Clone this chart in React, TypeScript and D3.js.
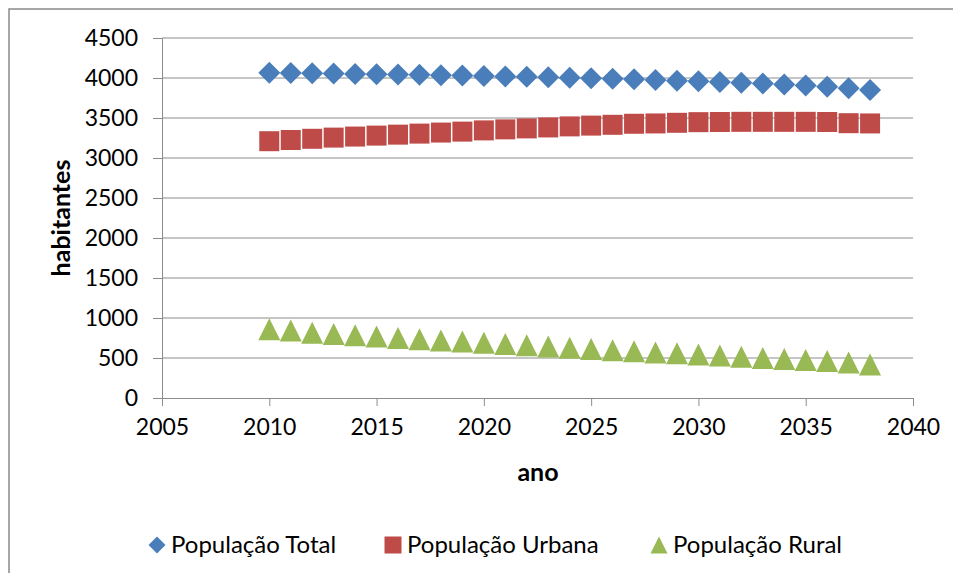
import { useEffect, useRef } from 'react'
import * as d3 from 'd3'

const years = [
  2010, 2011, 2012, 2013, 2014, 2015, 2016, 2017, 2018, 2019,
  2020, 2021, 2022, 2023, 2024, 2025, 2026, 2027, 2028, 2029,
  2030, 2031, 2032, 2033, 2034, 2035, 2036, 2037, 2038,
]

const popTotal = [
  4065, 4062, 4058, 4055, 4050, 4047, 4043, 4040, 4035, 4030,
  4026, 4020, 4016, 4010, 4004, 3998, 3990, 3983, 3975, 3967,
  3958, 3950, 3940, 3930, 3918, 3905, 3890, 3873, 3850,
]

const popUrbana = [
  3210, 3225, 3240, 3255, 3268, 3280, 3292, 3305, 3318, 3330,
  3345, 3358, 3370, 3382, 3395, 3405, 3415, 3428, 3432, 3440,
  3448, 3450, 3452, 3452, 3452, 3452, 3450, 3435, 3432,
]

const popRural = [
  860, 845, 815, 800, 785, 770, 750, 735, 720, 705,
  690, 675, 660, 645, 628, 612, 598, 585, 570, 558,
  545, 530, 515, 500, 488, 475, 462, 445, 420,
]

const yTicks = [0, 500, 1000, 1500, 2000, 2500, 3000, 3500, 4000, 4500]
const xTicks = [2005, 2010, 2015, 2020, 2025, 2030, 2035, 2040]

const seriesNames = ['População Total', 'População Urbana', 'População Rural']

const W = 961
const H = 581
const font = 'Lato, "Open Sans", sans-serif'

const markerPath = (shape: string, s: number) => {
  const h = s / 2
  if (shape === 'diamond') return `M0,${-h}L${h},0L0,${h}L${-h},0Z`
  if (shape === 'square') return `M${-h},${-h}H${h}V${h}H${-h}Z`
  return `M0,${-h}L${h},${h}L${-h},${h}Z`
}

const App = () => {
  const ref = useRef<SVGSVGElement | null>(null)

  useEffect(() => {
    const svg = d3.select(ref.current)
    svg.selectAll('*').remove()

    const x = d3.scaleLinear().domain([2005, 2040]).range([162, 913])
    const y = d3.scaleLinear().domain([0, 4500]).range([398, 38])

    // chart frame (runs off the right/bottom edge)
    svg.append('rect')
      .attr('x', 9).attr('y', 9)
      .attr('width', 970).attr('height', 590)
      .attr('fill', 'white')
      .attr('stroke', '#898989')
      .attr('stroke-width', 1.5)

    // gridlines
    svg.append('g')
      .selectAll('line')
      .data(yTicks.filter(t => t > 0))
      .enter()
      .append('line')
      .attr('x1', x(2005)).attr('x2', x(2040))
      .attr('y1', d => y(d)).attr('y2', d => y(d))
      .attr('stroke', '#8c8c8c')
      .attr('stroke-width', 1)

    const yAxis = d3.axisLeft(y).tickValues(yTicks).tickSize(9).tickPadding(15)
      .tickFormat(d => String(d))
    const xAxis = d3.axisBottom(x).tickValues(xTicks).tickSize(8).tickPadding(13)
      .tickFormat(d => String(d))

    const gy = svg.append('g')
      .attr('transform', `translate(${x(2005)},0)`)
      .call(yAxis)
    const gx = svg.append('g')
      .attr('transform', `translate(0,${y(0)})`)
      .call(xAxis)

    for (const g of [gx, gy]) {
      g.select('.domain').attr('stroke', '#8c8c8c')
      g.selectAll('.tick line').attr('stroke', '#8c8c8c')
      g.selectAll('.tick text')
        .attr('fill', '#000')
        .style('font-family', font)
        .style('font-size', '23px')
    }

    // axis titles
    svg.append('text')
      .attr('transform', `translate(70,${(y(0) + y(4500)) / 2}) rotate(-90)`)
      .attr('text-anchor', 'middle')
      .style('font-family', font)
      .style('font-size', '25px')
      .style('font-weight', 'bold')
      .text('habitantes')

    svg.append('text')
      .attr('x', 538).attr('y', 481)
      .attr('text-anchor', 'middle')
      .style('font-family', font)
      .style('font-size', '25px')
      .style('font-weight', 'bold')
      .text('ano')

    const series = [
      { name: seriesNames[0], values: popTotal, color: '#4a7ebb', shape: 'diamond', size: 22 },
      { name: seriesNames[1], values: popUrbana, color: '#be4b48', shape: 'square', size: 20 },
      { name: seriesNames[2], values: popRural, color: '#98b954', shape: 'triangle', size: 22 },
    ]

    series.forEach(s => {
      svg.append('g')
        .selectAll('path')
        .data(years)
        .enter()
        .append('path')
        .attr('d', markerPath(s.shape, s.size))
        .attr('transform', (d, i) => `translate(${x(d)},${y(s.values[i])})`)
        .attr('fill', s.color)
    })

    // legend
    const legendX = [157, 393, 659]
    const legend = svg.append('g')
    series.forEach((s, i) => {
      legend.append('path')
        .attr('d', markerPath(s.shape, 17))
        .attr('transform', `translate(${legendX[i]},545)`)
        .attr('fill', s.color)
      legend.append('text')
        .attr('x', legendX[i] + 14)
        .attr('y', 545)
        .attr('dy', '0.35em')
        .style('font-family', font)
        .style('font-size', '24px')
        .text(s.name)
    })
  }, [])

  return (
    <div style={{ margin: -8 }}>
      <svg ref={ref} width={W} height={H} style={{ display: 'block' }} />
    </div>
  )
}

export default App
